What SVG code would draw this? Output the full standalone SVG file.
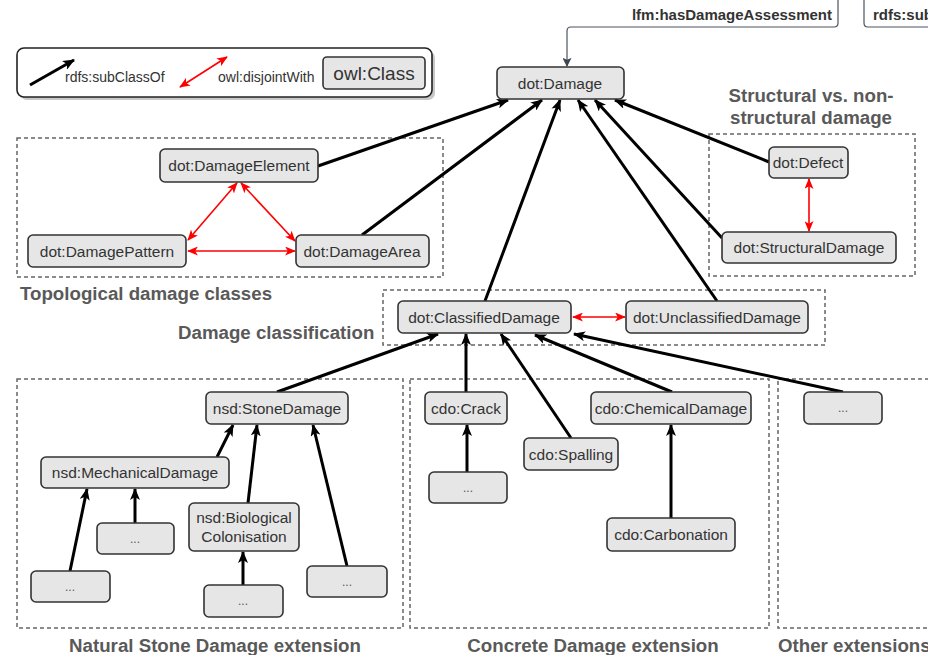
<svg xmlns="http://www.w3.org/2000/svg" width="928" height="655" viewBox="0 0 928 655">
<style>
.n rect{fill:#e6e6e6;stroke:#333;stroke-width:1.6}
.n text{font-family:"Liberation Sans",Arial,sans-serif;font-size:15.5px;fill:#333;text-anchor:middle}
.n text.d{font-size:12px;fill:#555}
.grp{fill:none;stroke:#666;stroke-width:1.5;stroke-dasharray:4 3}
.gl{font-family:"Liberation Sans",Arial,sans-serif;font-weight:bold;font-size:18.7px;fill:#595959}
.sub{stroke:#000;stroke-width:3;fill:none;marker-end:url(#ab)}
.dis{stroke:#f00;stroke-width:1.6;fill:none;marker-end:url(#ar);marker-start:url(#ar)}
</style>
<defs>
<marker id="ab" viewBox="0 0 12 10" refX="11" refY="5" markerWidth="12" markerHeight="10" markerUnits="userSpaceOnUse" orient="auto">
<path d="M0,0 L12,5 L0,10 L3,5 Z" fill="#000"/>
</marker>
<marker id="ar" viewBox="0 0 12 10" refX="11" refY="5" markerWidth="11" markerHeight="9" markerUnits="userSpaceOnUse" orient="auto-start-reverse">
<path d="M0,0 L12,5 L0,10 L3,5 Z" fill="#f00"/>
</marker>
<marker id="ag" viewBox="0 0 10 10" refX="9" refY="5" markerWidth="9" markerHeight="9" markerUnits="userSpaceOnUse" orient="auto">
<path d="M0,0 L10,5 L0,10 L2,5 Z" fill="#3d4752"/>
</marker>
</defs>
<rect width="928" height="655" fill="#fff"/>

<!-- legend -->
<g id="legend">
<rect x="20" y="51" width="415" height="49" rx="7" fill="#c8c8c8"/>
<rect x="17" y="48" width="415" height="49" rx="7" fill="#fff" stroke="#222" stroke-width="1.6"/>
<line x1="30" y1="85" x2="74" y2="60" class="sub"/>
<text x="65" y="82" font-family="Liberation Sans,Arial,sans-serif" font-size="14" fill="#333">rdfs:subClassOf</text>
<line x1="180" y1="87" x2="227" y2="57" class="dis"/>
<text x="218" y="82" font-family="Liberation Sans,Arial,sans-serif" font-size="14" fill="#333">owl:disjointWith</text>
<rect x="323" y="57" width="102" height="32" rx="4" fill="#e6e6e6" stroke="#333" stroke-width="1.6"/>
<text x="374" y="80" text-anchor="middle" font-family="Liberation Sans,Arial,sans-serif" font-size="19" fill="#333">owl:Class</text>
</g>

<!-- top external labels -->
<g id="lfm-label">
<path d="M838,0 V23 Q838,27 834,27 H571 Q567,27 567,31 V66" fill="none" stroke="#4d5560" stroke-width="1.2" marker-end="url(#ag)"/>
<text x="832" y="20" text-anchor="end" font-family="Liberation Sans,Arial,sans-serif" font-weight="bold" font-size="15" fill="#333">lfm:hasDamageAssessment</text>
</g>
<g id="rdfs-label">
<path d="M864,0 V23 Q864,27 868,27 H930" fill="none" stroke="#4d5560" stroke-width="1.2"/>
<text x="873" y="20" font-family="Liberation Sans,Arial,sans-serif" font-weight="bold" font-size="15" fill="#333">rdfs:sub</text>
</g>

<!-- groups -->
<g id="groups">
<rect class="grp" x="17" y="138" width="426" height="139"/>
<text class="gl" x="20" y="300">Topological damage classes</text>
<rect class="grp" x="383" y="290" width="442" height="55"/>
<text class="gl" x="178" y="339">Damage classification</text>
<rect class="grp" x="709" y="134" width="206" height="142"/>
<text class="gl" x="811" y="102" text-anchor="middle">Structural vs. non-</text>
<text class="gl" x="811" y="124" text-anchor="middle">structural damage</text>
<rect class="grp" x="17" y="379" width="386" height="249"/>
<text class="gl" x="215" y="652" text-anchor="middle">Natural Stone Damage extension</text>
<rect class="grp" x="410" y="379" width="359" height="249"/>
<text class="gl" x="593" y="652" text-anchor="middle">Concrete Damage extension</text>
<rect class="grp" x="778" y="379" width="160" height="249"/>
<text class="gl" x="778" y="652">Other extensions</text>
</g>

<!-- connectors -->
<g id="connectors">
<line class="sub" x1="318" y1="166" x2="508" y2="100"/>
<line class="sub" x1="362" y1="235" x2="542" y2="100"/>
<line class="sub" x1="485" y1="301" x2="560" y2="100"/>
<line class="sub" x1="717" y1="301" x2="578" y2="100"/>
<line class="sub" x1="722" y1="238" x2="595" y2="100"/>
<line class="sub" x1="769" y1="162" x2="615" y2="100"/>

<line class="sub" x1="277" y1="392" x2="438" y2="334"/>
<line class="sub" x1="466" y1="392" x2="466" y2="334"/>
<line class="sub" x1="571" y1="438" x2="501" y2="334"/>
<line class="sub" x1="672" y1="392" x2="535" y2="335"/>
<line class="sub" x1="843" y1="392" x2="574" y2="334"/>

<line class="sub" x1="217" y1="457" x2="233" y2="425"/>
<line class="sub" x1="248" y1="503" x2="257" y2="425"/>
<line class="sub" x1="347" y1="566" x2="313" y2="425"/>
<line class="sub" x1="70" y1="571" x2="87" y2="489"/>
<line class="sub" x1="135" y1="523" x2="135" y2="489"/>
<line class="sub" x1="243" y1="585" x2="243" y2="552"/>
<line class="sub" x1="467" y1="472" x2="467" y2="425"/>
<line class="sub" x1="671" y1="518" x2="671" y2="425"/>

<line class="dis" x1="237" y1="183" x2="188" y2="240"/>
<line class="dis" x1="241" y1="183" x2="295" y2="241"/>
<line class="dis" x1="188" y1="251" x2="295" y2="251"/>
<line class="dis" x1="573" y1="317" x2="625" y2="317"/>
<line class="dis" x1="809" y1="179" x2="809" y2="231"/>
</g>

<!-- nodes -->
<g id="dot-Damage" class="n"><rect x="497" y="67" width="127" height="32" rx="5"/><text x="560" y="89">dot:Damage</text></g>
<g id="dot-DamageElement" class="n"><rect x="160" y="149" width="158" height="33" rx="5"/><text x="239" y="171">dot:DamageElement</text></g>
<g id="dot-DamagePattern" class="n"><rect x="28" y="235" width="158" height="32" rx="5"/><text x="107" y="257">dot:DamagePattern</text></g>
<g id="dot-DamageArea" class="n"><rect x="296" y="235" width="133" height="32" rx="5"/><text x="362" y="257">dot:DamageArea</text></g>
<g id="dot-Defect" class="n"><rect x="769" y="147" width="79" height="31" rx="5"/><text x="808" y="168">dot:Defect</text></g>
<g id="dot-StructuralDamage" class="n"><rect x="722" y="232" width="174" height="31" rx="5"/><text x="809" y="253">dot:StructuralDamage</text></g>
<g id="dot-ClassifiedDamage" class="n"><rect x="398" y="301" width="173" height="32" rx="5"/><text x="484" y="323">dot:ClassifiedDamage</text></g>
<g id="dot-UnclassifiedDamage" class="n"><rect x="626" y="301" width="182" height="32" rx="5"/><text x="717" y="323">dot:UnclassifiedDamage</text></g>

<g id="nsd-StoneDamage" class="n"><rect x="206" y="392" width="142" height="32" rx="5"/><text x="277" y="414">nsd:StoneDamage</text></g>
<g id="nsd-MechanicalDamage" class="n"><rect x="41" y="457" width="188" height="31" rx="5"/><text x="135" y="478">nsd:MechanicalDamage</text></g>
<g id="nsd-more1" class="n"><rect x="97" y="523" width="77" height="31" rx="5"/><text class="d" x="135" y="543">...</text></g>
<g id="nsd-more2" class="n"><rect x="31" y="571" width="79" height="31" rx="5"/><text class="d" x="70" y="591">...</text></g>
<g id="nsd-BiologicalColonisation" class="n"><rect x="189" y="503" width="110" height="48" rx="5"/><text x="244" y="523">nsd:Biological</text><text x="244" y="542">Colonisation</text></g>
<g id="nsd-more3" class="n"><rect x="204" y="585" width="79" height="32" rx="5"/><text class="d" x="243" y="605">...</text></g>
<g id="nsd-more4" class="n"><rect x="307" y="566" width="80" height="31" rx="5"/><text class="d" x="347" y="586">...</text></g>

<g id="cdo-Crack" class="n"><rect x="425" y="392" width="82" height="32" rx="5"/><text x="466" y="414">cdo:Crack</text></g>
<g id="cdo-more" class="n"><rect x="429" y="472" width="78" height="31" rx="5"/><text class="d" x="468" y="492">...</text></g>
<g id="cdo-Spalling" class="n"><rect x="524" y="438" width="94" height="32" rx="5"/><text x="571" y="460">cdo:Spalling</text></g>
<g id="cdo-ChemicalDamage" class="n"><rect x="591" y="392" width="160" height="32" rx="5"/><text x="671" y="414">cdo:ChemicalDamage</text></g>
<g id="cdo-Carbonation" class="n"><rect x="607" y="518" width="128" height="33" rx="5"/><text x="671" y="540">cdo:Carbonation</text></g>
<g id="other-more" class="n"><rect x="804" y="392" width="78" height="32" rx="5"/><text class="d" x="843" y="412">...</text></g>
</svg>
